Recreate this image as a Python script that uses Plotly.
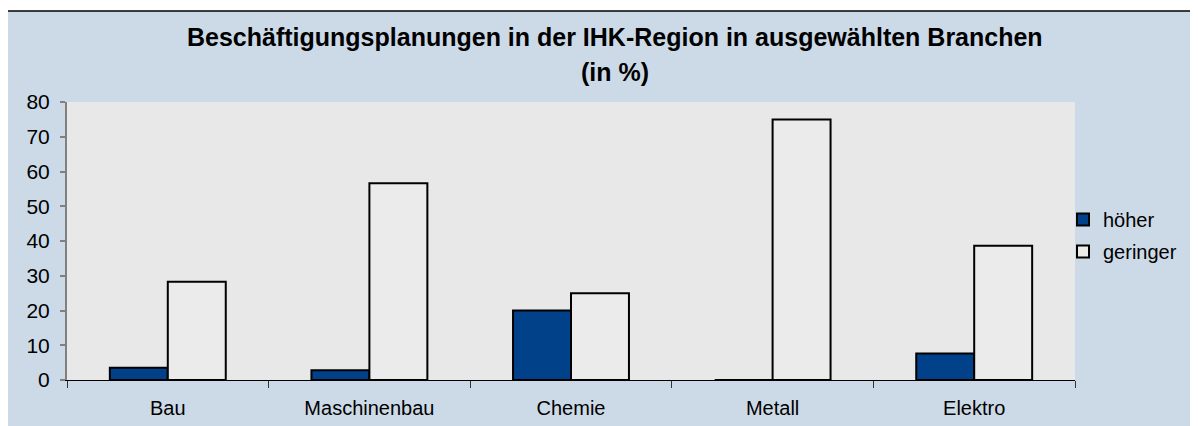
import plotly.graph_objects as go

categories = ["Bau", "Maschinenbau", "Chemie", "Metall", "Elektro"]
hoeher = [3.5, 2.8, 20.0, 0.0, 7.6]
geringer = [28.3, 56.6, 25.0, 75.0, 38.6]
series_names = ["höher", "geringer"]
title_line1 = "Beschäftigungsplanungen in der IHK-Region in ausgewählten Branchen"
title_line2 = "(in %)"

# page has an 8px body margin; work in page pixel coordinates and shift
OFF = 8
W, H = 1198 - OFF, 426 - OFF
PL, PR, PT, PB = 67, 1075, 102, 380   # plot area in page pixels
L, R, T, B = PL - OFF, W - (PR - OFF), PT - OFF, H - (PB - OFF)
pw, ph = W - L - R, H - T - B

def px_x(p):
    return (p - OFF - L) / pw

def px_y(p):
    return (H - B - (p - OFF)) / ph

FONT = "Liberation Sans, Arial, sans-serif"
BG = "#CCDAE7"

fig = go.Figure()
fig.add_trace(go.Bar(
    x=categories, y=hoeher, name=series_names[0], legendgroup="a",
    marker=dict(color="#00418A", line=dict(color="black", width=2)),
))
fig.add_trace(go.Bar(
    x=categories, y=geringer, name=series_names[1], legendgroup="b",
    marker=dict(color="#EBEBEB", line=dict(color="black", width=2)),
))

fig.update_layout(
    width=W, height=H,
    margin=dict(l=L, r=R, t=T, b=B, pad=0, autoexpand=False),
    paper_bgcolor=BG,
    plot_bgcolor="#E8E8E8",
    barmode="group", bargap=0.425, bargroupgap=0,
    font=dict(family=FONT, size=20, color="black"),
    showlegend=True,
    legend=dict(
        x=px_x(1063), y=px_y(200), xanchor="left", yanchor="top",
        bgcolor="rgba(0,0,0,0)", font=dict(size=20),
        tracegroupgap=3, itemwidth=30,
    ),
    xaxis=dict(
        showline=True, linecolor="black", linewidth=1, automargin=False,
        ticks="outside", tickson="boundaries", ticklen=7, tickcolor="#333333",
        tickfont=dict(size=20), showgrid=False, zeroline=False,
        ticklabelstandoff=10,
    ),
    yaxis=dict(
        range=[0, 80], dtick=10, showline=True, linecolor="#808080", linewidth=2,
        automargin=False,
        ticks="outside", ticklen=5, tickcolor="#808080", tickwidth=2,
        tickfont=dict(size=21), showgrid=False, zeroline=False,
        ticklabelstandoff=6,
    ),
    shapes=[
        dict(type="rect", xref="paper", yref="paper", x0=px_x(-20), x1=px_x(7), y0=px_y(450), y1=px_y(-20),
             fillcolor="white", line=dict(width=0), layer="below"),
        dict(type="rect", xref="paper", yref="paper", x0=px_x(-20), x1=px_x(1220), y0=px_y(11), y1=px_y(-20),
             fillcolor="white", line=dict(width=0), layer="below"),
        dict(type="line", xref="paper", yref="paper", x0=px_x(7), x1=px_x(1220), y0=px_y(11), y1=px_y(11),
             line=dict(color="black", width=1.5)),
        dict(type="line", xref="paper", yref="paper", x0=px_x(7), x1=px_x(7), y0=px_y(11), y1=px_y(450),
             line=dict(color="black", width=1.5)),
    ],
    annotations=[
        dict(text="<b>" + title_line1 + "</b>", xref="paper", yref="paper", x=px_x(615), y=px_y(37),
             xanchor="center", yanchor="middle", showarrow=False, font=dict(size=25, family=FONT)),
        dict(text="<b>" + title_line2 + "</b>", xref="paper", yref="paper", x=px_x(615), y=px_y(72),
             xanchor="center", yanchor="middle", showarrow=False, font=dict(size=25, family=FONT)),
    ],
)

fig.write_html("out.html")
